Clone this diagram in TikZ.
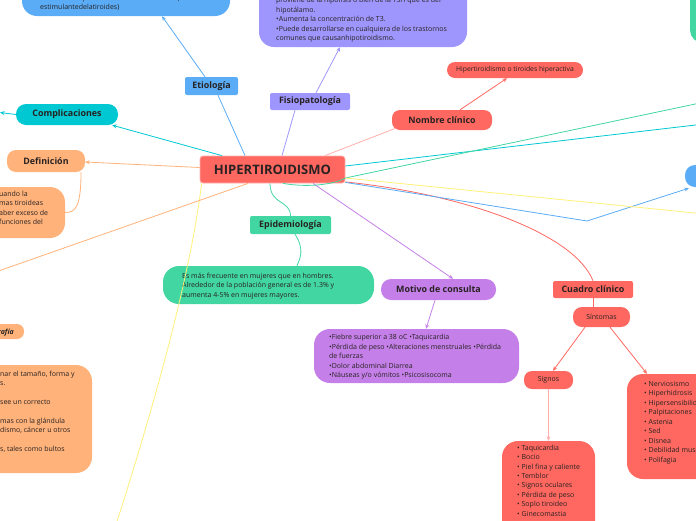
\documentclass[tikz,border=0pt]{standalone}
\usepackage{fontspec}
\setmainfont{Open Sans}
\usetikzlibrary{arrows.meta}
\definecolor{cblue}{RGB}{90,172,246}
\definecolor{clav}{RGB}{158,150,252}
\definecolor{cred}{RGB}{255,104,96}
\definecolor{cteal}{RGB}{0,200,210}
\definecolor{cgreen}{RGB}{66,214,162}
\definecolor{cpeach}{RGB}{255,178,122}
\definecolor{cpurple}{RGB}{196,128,232}
\definecolor{cyellow}{RGB}{255,240,120}
\definecolor{cpink}{RGB}{255,176,172}
\definecolor{ctext}{RGB}{40,34,34}
\begin{document}
\begin{tikzpicture}[x=1pt,y=-1pt,
  topic/.style={rectangle, inner sep=0, text=ctext, font=\bfseries\fontsize{8.9}{10}\selectfont},
  small/.style={rectangle, inner sep=0, text=ctext, font=\fontsize{6.8}{8}\selectfont},
  body/.style={inner sep=0, anchor=north west, align=left, text=ctext, font=\fontsize{7}{9.5}\selectfont},
  panel/.style={rectangle, rounded corners=15, inner sep=0},
  ln/.style={line width=0.8pt},
  ar/.style={line width=0.8pt, -{Stealth[length=4.5pt,width=4pt]}},
]
\useasboundingbox (0,0) rectangle (696,520);
\clip (0,0) rectangle (696,520);

% ---------- panels ----------
\node[panel, fill=cblue, minimum width=208, minimum height=56] (etbox) at (126,-12) {};
\node[body] (ettxt) at (40,-5.5) {Adenomas hipofisarios secretores de TSH (hormona\\estimulantedelatiroides)};

\node[panel, fill=clav, minimum width=208, minimum height=77] (fisbox) at (363,8.5) {};
\node[body] (fistxt) at (276,-3) {proviene de la hipófisis o bien de la TSH que es del\\hipotálamo.\\•Aumenta la concentración de T3.\\•Puede desarrollarse en cualquiera de los trastornos\\comunes que causanhipotiroidismo.};

\node[panel, fill=cgreen, minimum width=80, minimum height=100, rounded corners=13] (gtr) at (730,-7) {};

\node[panel, fill=cpeach, minimum width=125, minimum height=51] (defbox) at (2.5,212.5) {};
\node[body] (deftxt) at (-1,190.8) {uando la\\mas tiroideas\\aber exceso de\\funciones del};

\node[panel, fill=cgreen, minimum width=211, minimum height=38, rounded corners=16] (epibox) at (268.5,285) {};
\node[body] (epitxt) at (182,272.5) {Es más frecuente en mujeres que en hombres.\\Alrededor de la población general es de 1.3\% y\\aumenta 4-5\% en mujeres mayores.};

\node[panel, fill=cpurple, minimum width=205, minimum height=54, rounded corners=16] (motbox) at (416.5,356) {};
\node[body] (mottxt) at (329,334.2) {•Fiebre superior a 38 oC •Taquicardia\\•Pérdida de peso •Alteraciones menstruales •Pérdida\\de fuerzas\\•Dolor abdominal Diarrea\\•Náuseas y/o vómitos •Psicosisocoma};

\node[panel, fill=cpeach, minimum width=242, minimum height=108, rounded corners=16] (diagbox) at (-29,419) {};
\node[body, font=\fontsize{7}{9.4}\selectfont] (diagtxt) at (0,370.8) {nar el tamaño, forma y\\s.\\\mbox{}\\see un correcto\\\mbox{}\\mas con la glándula\\dismo, cáncer u otros\\\mbox{}\\s, tales como bultos};

\node[panel, fill=cred, minimum width=93, minimum height=118, rounded corners=16] (signbox) at (548.5,500) {};
\node[body, font=\fontsize{7}{9.4}\selectfont] (signtxt) at (517,444.8) {• Taquicardia\\• Bocio\\• Piel fina y caliente\\• Temblor\\• Signos oculares\\• Pérdida de peso\\• Soplo tiroideo\\• Ginecomastia};

\node[panel, fill=cred, minimum width=133, minimum height=105, rounded corners=16] (sintbox) at (693.5,426.5) {};
\node[body] (sinttxt) at (644,380.8) {• Nerviosismo\\• Hiperhidrosis\\• Hipersensibilidad al calor\\• Palpitaciones\\• Astenia\\• Sed\\• Disnea\\• Debilidad muscular\\• Polifagia};

% ---------- topic nodes ----------
\node[topic, fill=cred, draw=cpink, line width=0.8pt, rounded corners=3, minimum width=145, minimum height=27, font=\bfseries\fontsize{13}{15}\selectfont] (main) at (272.5,169.5) {HIPERTIROIDISMO};
\node[topic, fill=cblue, rounded corners=2, minimum width=53, minimum height=18] (etio) at (211.5,86) {Etiología};
\node[topic, fill=clav, rounded corners=2, minimum width=80, minimum height=17] (fisio) at (310,101.5) {Fisiopatología};
\node[topic, fill=cred, rounded corners=8, minimum width=100, minimum height=20] (nombre) at (442,120) {Nombre clínico};
\node[small, fill=cred, rounded corners=8, minimum width=136, minimum height=16] (lbl) at (515,70) {Hipertiroidismo o tiroides hiperactiva};
\node[topic, fill=cteal, rounded corners=10, minimum width=102, minimum height=21] (compl) at (67,114.5) {Complicaciones};
\node[topic, fill=cpeach, rounded corners=9, minimum width=78, minimum height=22] (def) at (46,161) {Definición};
\node[topic, fill=cgreen, rounded corners=2, minimum width=81, minimum height=18] (epi) at (290.5,225) {Epidemiología};
\node[topic, fill=cpurple, rounded corners=10, minimum width=115, minimum height=21] (motivo) at (438.5,289.5) {Motivo de consulta};
\node[topic, fill=cred, rounded corners=2, minimum width=80, minimum height=17] (cuadro) at (593,289.5) {Cuadro clínico};
\node[small, fill=cred, rounded corners=9, minimum width=57, minimum height=20, font=\fontsize{7}{8}\selectfont] (sintomas) at (601.5,317) {Síntomas};
\node[small, fill=cred, rounded corners=8, minimum width=49, minimum height=18, font=\fontsize{7}{8}\selectfont] (signos) at (548.5,380) {Signos};
\node[topic, fill=cpeach, rounded corners=7, minimum width=64, minimum height=15] (grafia) at (-8,331.5) {};
\node[inner sep=0, anchor=base east, text=ctext, font=\bfseries\itshape\fontsize{7}{8}\selectfont] (grafiatxt) at (14,334) {Ecografía};
\node[rectangle, fill=cblue, rounded corners=10, minimum width=35, minimum height=22, inner sep=0] (bluec) at (702.5,176) {};

% ---------- free ends ----------
\coordinate (compout) at (0,112.5);
\coordinate (tealout) at (700,124.5);
\coordinate (greenout) at (700,103);
\coordinate (yelout) at (700,213.5);
\coordinate (yeldown) at (112,537);
\coordinate (peachout) at (-30,281);
\coordinate (bk) at (587,221);

% ---------- connectors ----------
\draw[ln, cblue] ([xshift=-27.5pt]main.north) -- ([xshift=6.5pt]etio.south);
\draw[ar, cblue] ([xshift=-6.5pt]etio.north) -- ([xshift=36pt]etbox.south);
\draw[ln, clav] ([xshift=9.5pt]main.north) -- ([xshift=-15pt]fisio.south);
\draw[ar, clav] ([xshift=6pt]fisio.north) -- ([xshift=-23pt]fisbox.south);
\draw[ln, cpink] ([xshift=52.5pt]main.north) -- ([xshift=4pt,yshift=2pt]nombre.south west);
\draw[ar, cred] ([xshift=18pt]nombre.north) -- ([xshift=-8pt]lbl.south);
\draw[ar, cteal] ([xshift=-50.5pt]main.north) -- ([xshift=-6pt]compl.south east);
\draw[ar, cteal] (compl.west) -- (compout);
\draw[ar, cpeach] ([yshift=2pt]main.west) -- ([yshift=-1pt]def.east);
\draw[ln, cpeach] ([xshift=35pt]def.south) .. controls (81,208) and (75,212.5) .. (defbox.east);
\draw[ln, cgreen] ([xshift=-2.5pt]main.south) .. controls (270,205) and (290.5,200) .. (epi.north);
\draw[ln, cgreen] ([xshift=4.5pt]epi.south) .. controls (305,250) and (300,258) .. ([xshift=28.5pt]epibox.north);
\draw[ar, cpurple] ([xshift=40.5pt]main.south) -- ([xshift=14.5pt]motivo.north);
\draw[ar, cpurple] ([xshift=-3.5pt]motivo.south) -- ([xshift=9.5pt]motbox.north);
\draw[ln, cred] ([yshift=1.5pt]main.south east) .. controls (470,195) and (575,235) .. (cuadro.north);
\draw[ln, cred] (cuadro.south) -- ([xshift=-8.5pt]sintomas.north);
\draw[ar, cred] ([xshift=-16.5pt]sintomas.south) -- ([xshift=4.5pt]signos.north);
\draw[ar, cred] ([xshift=8.5pt]sintomas.south) -- ([xshift=-46.5pt]sintbox.north);
\draw[ar, cpink] (signos.south) -- (signbox.north);
\draw[ar, cblue] ([yshift=1pt]main.south east) -- (bk) -- ([xshift=4pt,yshift=-1pt]bluec.south west);
\draw[ln, cteal] ([yshift=3.5pt]main.east) -- (tealout);
\draw[ln, cgreen] ([xshift=10.5pt]main.south) .. controls (310,188) and (335,184) .. ([yshift=-8.5pt]main.east) -- (greenout);
\draw[ln, cyellow] ([yshift=-8.5pt]main.east) -- (yelout);
\draw[ln, cyellow] ([xshift=2pt]main.south west) .. controls (190,280) and (150,420) .. (yeldown);
\draw[ln, cpeach] ([xshift=-24.5pt]main.south) -- (peachout);
\end{tikzpicture}
\end{document}
